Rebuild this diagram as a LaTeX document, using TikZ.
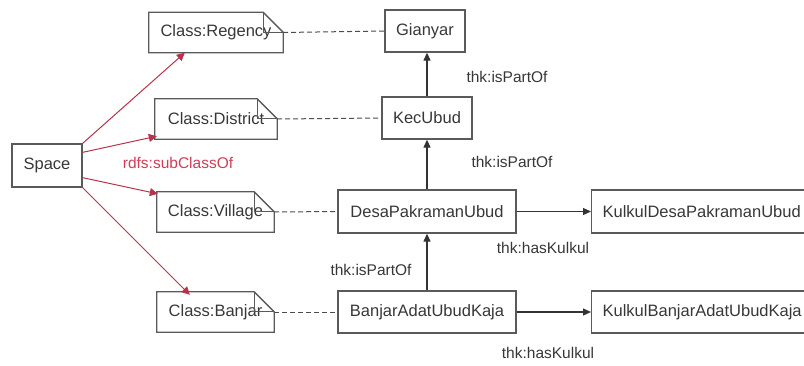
\documentclass[tikz,border=0pt]{standalone}
\usepackage{fontspec}
\setmainfont{Liberation Sans}
\usetikzlibrary{arrows.meta,calc}

\definecolor{boxgray}{RGB}{90,90,90}
\definecolor{txtgray}{RGB}{55,55,55}
\definecolor{subred}{RGB}{185,50,75}
\definecolor{labred}{RGB}{210,60,85}

\tikzset{
  x=1pt, y=-1pt,
  every node/.style={font=\fontsize{16.5}{19}\selectfont, text=txtgray},
  inst/.style={draw=boxgray, line width=1.3pt, minimum height=42pt, inner sep=0pt},
  widebox/.style={inst, anchor=west, inner xsep=11pt, text width=240pt, align=left},
  notebox/.style={minimum height=40pt, inner sep=0pt},
  partof/.style={draw=black!80, line width=1.2pt, -{Triangle[length=8pt,width=7pt]}},
  haskulkul/.style={draw=black!80, line width=1.2pt, -{Triangle[length=8pt,width=7pt]}},
  subclass/.style={draw=subred, line width=1pt, -{Triangle[length=8pt,width=8pt]}},
  typeline/.style={draw=black!70, line width=1pt, dash pattern=on 5pt off 3pt},
  proplabel/.style={font=\fontsize{15.5}{18}\selectfont, text=txtgray},
}

\begin{document}
\begin{tikzpicture}
\useasboundingbox (0,0) rectangle (804,365);
\clip (0,0) rectangle (804,365);

% class notes on the left
\node[draw=boxgray, line width=1.3pt, minimum width=70pt, minimum height=43pt, inner sep=0pt] (space) at (47,165.5) {Space};
\node[notebox, minimum width=134pt] (reg) at (216,32.5) {Class:Regency};
\node[notebox, minimum width=122pt] (dis) at (216,119)  {Class:District};
\node[notebox, minimum width=117pt] (vil) at (215.5,212) {Class:Village};
\node[notebox, minimum width=117pt] (ban) at (215.5,312) {Class:Banjar};

% note outlines with folded corner
\foreach \n in {reg,dis,vil,ban}{
  \draw[boxgray, line width=1.3pt, line join=miter]
    (\n.south west) -- (\n.north west) -- ([xshift=-20pt]\n.north east)
    -- ([yshift=-20pt]\n.north east) -- (\n.south east) -- cycle;
  \draw[boxgray, line width=1.1pt]
    ([xshift=-20pt]\n.north east) |- ([yshift=-20pt]\n.north east);
}

% instances
\node[inst, minimum width=80pt]  (gia)  at (425,31)   {Gianyar};
\node[inst, minimum width=90pt]  (kec)  at (427,118)  {KecUbud};
\node[inst, minimum width=178pt, minimum height=43pt] (desa) at (427,211.5) {DesaPakramanUbud};
\node[inst, minimum width=178pt] (bjr)  at (427,312)  {BanjarAdatUbudKaja};
\node[widebox, minimum height=43pt] (kkd) at (591,211.5) {KulkulDesaPakramanUbud};
\node[widebox] (kkb) at (591,312) {KulkulBanjarAdatUbudKaja};

% rdfs:subClassOf links
\draw[subclass] (space.north east) -- ([xshift=36pt]reg.south west);
\draw[subclass] ([yshift=-9pt]space.north east) -- ([xshift=2pt,yshift=3pt]dis.south west);
\draw[subclass] ([yshift=10pt]space.south east) -- ([xshift=1pt,yshift=-2pt]vil.north west);
\draw[subclass] (space.south east) -- ([xshift=33pt,yshift=-3pt]ban.north west);
\node[text=labred, font=\fontsize{15.5}{18}\selectfont] (sublab) at (178,163) {rdfs:subClassOf};

% type links
\draw[typeline] (reg.east) -- (gia.west);
\draw[typeline] (dis.east) -- (kec.west);
\draw[typeline] (vil.east) -- (desa.west);
\draw[typeline] (ban.east) -- (bjr.west);

% thk:isPartOf
\draw[partof] (kec.north) -- (kec.north |- gia.south);
\draw[partof] (desa.north) -- (kec.south);
\draw[partof] (bjr.north) -- (desa.south);
\node[proplabel] (p1) at (507,77)  {thk:isPartOf};
\node[proplabel] (p2) at (512,162) {thk:isPartOf};
\node[proplabel] (p3) at (371,270) {thk:isPartOf};

% thk:hasKulkul
\draw[haskulkul] (desa.east) -- (kkd.west);
\draw[haskulkul] (bjr.east) -- (kkb.west);
\node[proplabel] (h1) at (543,248) {thk:hasKulkul};
\node[proplabel] (h2) at (548,353) {thk:hasKulkul};
\end{tikzpicture}
\end{document}
